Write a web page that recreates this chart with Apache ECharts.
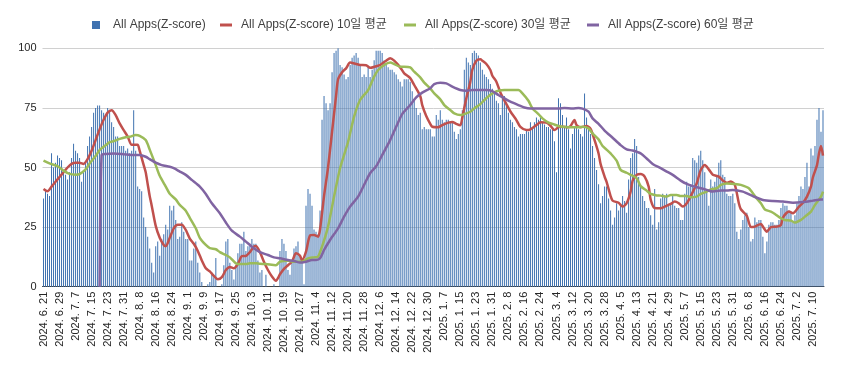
<!DOCTYPE html>
<html><head><meta charset="utf-8">
<script src="https://cdn.jsdelivr.net/npm/echarts@6/dist/echarts.min.js"></script>
<style>html,body{margin:0;padding:0;background:#fff}#c{width:843px;height:371px}</style>
</head><body><div id="c"></div>
<script>
// categories: one per day from 2024-06-21 (390 days)
const dayCount = 390;
const categories = [];
for (let i = 0; i < dayCount; i++) {
  const d = new Date(Date.UTC(2024, 5, 21 + i));
  categories.push(d.getUTCFullYear() + '. ' + (d.getUTCMonth() + 1) + '. ' + d.getUTCDate());
}
const seriesNames = ['All Apps(Z-score)', 'All Apps(Z-score) 10일 평균', 'All Apps(Z-score) 30일 평균', 'All Apps(Z-score) 60일 평균'];
const yTicks = [0, 25, 50, 75, 100];

// daily Z-score (bars)
const zScore = [
  37,40,39,38,56,50,52,55,54,53, 48,47,45,48,54,60,57,56,54,44,
  48,52,59,63,67,73,75,76,76,74, 73,71,75,74,69,67,63,63,59,59,
  59,57,58,56,57,74,57,42,41,40, 29,25,21,
  16,10,6,17,19,13,20,22,26,24, 34,32,34,28,20,21,27,23,20,20,
  11,11,16,19,10,6,2,0,0,1, 2,6,4,12,0,0,1,9,19,20,
  10,7,3,9,14,18,18,23,15,17, 18,20,18,18,11,6,7,
  0,5,0,0,0,1,0,0,
  15,20,18,15,7,5,11,16,17,19, 13,10,1,34,41,39,34,24,23,22,
  32,70,80,77,74,77,90,98,99,100, 93,92,89,87,88,93,96,97,98,96,
  93,88,89,88,92,88,91,95,99,99,
  99,98,95,93,92,91,91,90,89,87, 86,84,87,87,87,86,82,78,75,72,
  73,66,67,66,66,66,63,63,72,70, 74,70,69,70,70,69,69,65,62,64,
  66,74,91,96,94,93,98,99,98,97, 94,91,89,88,87,85,83,81,
  78,77,72,80,80,77,73,70,69,67, 66,63,64,64,64,66,65,69,67,69,
  71,70,71,69,68,67,67,66,67,61, 48,79,77,72,67,71,66,58,64,67,
  67,66,64,63,81,71,67,64,59,54, 49,43,35,38,42,42,
  37,32,26,29,35,32,34,38,36,31, 45,54,56,62,59,46,42,38,36,33,
  33,30,26,41,24,27,37,39,38,39, 34,35,38,34,33,33,28,28,39,44,
  42,43,54,53,52,55,57,53,48,41, 34,45,42,44,46,52,53,47,46,
  39,38,38,39,35,23,20,24,28,30, 31,25,19,20,29,27,28,28,21,14,
  19,26,27,27,26,26,28,33,35,34, 34,32,31,27,30,35,38,42,41,46,
  52,42,58,55,59,70,75,65,74
];

// moving averages: [day index, value]
const avg10 = [[0,41],[2,40],[4,42],[6,44],[8,46],[10,48],[12,50],[14,51.5],[16,52],[18,52],[20,51.5],[22,53.5],[24,57],[26,61.5],[28,66],[30,70],[32,73],[34,74],[36,72],[38,68.5],[40,65.7],[42,63],[44,59.5],[46,59.5],[47,59.5],[48,57],[50,51],[51,48],[52,43],[53,38],[54,34],[56,25.5],[58,20.5],[60,17.5],[61,17],[63,20.5],[65,24.5],[67,26],[69,26],[71,23.8],[73,20.2],[75,18],[77,15],[79,11],[81,7.7],[83,6.4],[85,4.5],[87,3.1],[89,4],[91,7],[93,8.3],[95,7.7],[97,9.5],[99,12.8],[101,12.9],[103,14.5],[105,16.8],[106,17.1],[108,14.5],[110,10.5],[112,7],[114,4.3],[116,2.5],[118,5.2],[120,7.5],[122,9],[124,10.5],[126,14],[128,13],[129,11],[131,14.7],[133,21.5],[135,21.7],[137,21],[138,24],[140,38],[142,50],[144,65],[146,80],[147,87],[149,90],[151,91.6],[153,94],[156,93.4],[158,93],[161,92.9],[163,91.8],[166,92.5],[168,93],[171,94.8],[173,95.8],[175,94.8],[178,92],[180,89.5],[183,87.5],[185,84.6],[188,80],[189,76.2],[191,71.6],[193,68.3],[194,67.1],[197,66.9],[199,67.8],[202,68.8],[204,69.1],[206,68.3],[208,67.7],[209,71],[211,79],[213,86],[214,91],[216,94.8],[218,95.4],[219,94.8],[221,93.4],[223,90.9],[224,88.5],[226,86],[228,81.5],[231,76.6],[233,73.5],[236,69.9],[238,67],[241,65.7],[243,66],[246,67.8],[248,69],[251,68.8],[253,67.5],[255,65.7],[257,66.9],[259,67.1],[262,66.9],[263,67.4],[265,69.9],[266,67.8],[268,66.9],[271,67.4],[273,66.2],[275,61.5],[277,55.9],[278,51.5],[280,46.2],[281,44],[283,38],[284,36.1],[287,35.2],[289,33.6],[291,35],[293,39.9],[294,44.5],[296,46.9],[298,47.3],[300,46.2],[302,42],[303,36.5],[305,33],[308,32.9],[310,33.6],[313,34.7],[315,35.7],[317,35],[319,33.6],[321,35],[323,38],[326,43.4],[328,49],[330,51],[332,49.2],[334,47],[337,46.2],[339,44.5],[341,43.6],[343,44.1],[345,42.7],[347,35],[348,32.5],[351,29.7],[353,25],[355,25.2],[358,26.3],[359,25.2],[361,23.1],[363,25],[366,25.2],[368,25.9],[369,29],[372,31.5],[374,30.8],[377,33.6],[379,35.2],[381,37.8],[383,42],[384,46],[386,51],[387,55.9],[388,59],[389,55]];

const avg30 = [[0,52.9],[3,51.7],[7,50.6],[10,48.7],[13,47.3],[16,47],[18,47.2],[21,49.2],[23,51.7],[26,54.8],[28,57.3],[31,59.3],[33,60.6],[36,61.3],[38,62],[41,62.7],[43,62.9],[46,63.6],[48,63.3],[51,61.5],[53,57.5],[56,51],[58,46.5],[61,42],[63,39],[66,36.6],[68,34.3],[71,31.9],[73,28.9],[76,24.5],[78,20.5],[81,17.5],[83,16.2],[86,15.7],[88,14.5],[91,13.3],[93,12.3],[96,9.8],[98,9.5],[101,9.5],[103,9.8],[106,9.8],[108,9.6],[111,9.5],[116,9],[118,10.5],[122,10.9],[125,10.5],[129,10.5],[132,11.9],[135,12.3],[137,12.6],[139,16.8],[142,25.2],[145,37.8],[148,49.7],[152,60.8],[155,71.3],[158,78.3],[162,82.5],[165,88.1],[167,90.9],[170,93],[173,94],[175,93.4],[178,92.3],[180,92.3],[183,92],[185,90.2],[188,87.8],[190,85.6],[193,83.2],[195,81.1],[198,78.6],[200,76.2],[203,74.1],[205,72.7],[208,72],[210,72.4],[213,73.4],[215,74.8],[218,76.6],[220,78.3],[223,80.5],[225,81.5],[227,82.2],[230,82.5],[234,82.5],[237,82.5],[239,81.1],[242,78],[244,74.8],[247,72.4],[249,70.6],[252,68.8],[254,68.3],[257,67.4],[259,67.1],[262,66.9],[264,66.9],[267,66.9],[269,67.1],[272,66.4],[274,64.3],[277,61.8],[279,59],[281,57.5],[283,55.9],[286,52.9],[288,49],[291,47.8],[293,46.9],[296,45.5],[298,42.2],[301,40.3],[303,38.9],[306,38.3],[308,38.2],[311,37.8],[313,38.5],[316,38.5],[318,38],[321,38],[323,37.5],[326,37.8],[328,38.9],[331,39.9],[333,40.8],[336,41.3],[338,42.7],[341,43.3],[345,43.1],[348,42.7],[352,41.3],[355,38],[358,35],[360,32.4],[363,31.5],[365,30.5],[368,28.7],[370,28],[373,27.7],[375,26.9],[378,28],[380,29.4],[383,31.5],[385,34.3],[388,37.8],[389,39.9]];

const avg60 = [[28,0],[29,55.2],[31,55.7],[35,55.9],[40,55.6],[45,55.2],[48,55.2],[51,54.5],[53,53.5],[56,52],[59,51],[63,50.3],[65,49.7],[68,48.3],[71,46.9],[74,44.8],[78,42],[81,38.9],[84,35],[88,30.8],[91,26.9],[94,23.5],[98,21],[101,18.9],[104,16.8],[108,14.5],[112,13.3],[115,12.3],[118,11.9],[122,11.2],[125,10.8],[128,10.1],[131,10.5],[134,11.2],[136,11.2],[138,11.9],[140,15.4],[143,19.6],[147,24.5],[150,29.4],[153,33.6],[157,37.8],[160,42.7],[163,47.6],[166,50.5],[169,55.2],[173,61.5],[176,67.1],[179,72.4],[183,76.2],[186,79.4],[189,81.4],[193,83.2],[195,85],[198,85.6],[201,85.3],[204,83.9],[208,82.5],[211,82.2],[214,82.5],[218,82.5],[221,82.5],[224,82],[227,80.4],[230,79],[233,77.6],[237,76.2],[240,75.2],[243,74.8],[247,74.8],[250,74.8],[254,74.8],[257,74.7],[260,75],[264,74.8],[267,75],[269,74.7],[272,73.4],[274,70.6],[277,68.3],[280,65.5],[284,62.5],[288,59.4],[291,57.6],[294,57.1],[298,55.9],[301,53.8],[304,51.5],[308,49.7],[311,48.3],[314,46.9],[318,44.5],[321,43.1],[324,42.2],[328,41.3],[331,40.6],[334,39.9],[338,40.3],[341,40.3],[344,40.6],[349,39.9],[354,38],[359,36.4],[364,35.9],[369,35.7],[374,35.2],[379,35.5],[384,36.1],[388,36.6],[389,36.6]];

const colors = ['#4a7ebb', '#c0504d', '#9bbb59', '#8064a2'];
const font = 'Liberation Sans, "Noto Sans CJK KR", sans-serif';

const chart = echarts.init(document.getElementById('c'), null, {renderer: 'canvas'});
const legendBase = {top: 19, padding: 0, itemGap: 0, textStyle: {fontFamily: font, fontSize: 12, color: '#404040', padding: [0, 0, 0, 4]}};
chart.setOption({
  animation: false,
  color: colors,
  grid: {left: 42.5, right: 19, top: 48.3, bottom: 84.3, containLabel: false},
  legend: [
    Object.assign({}, legendBase, {left: 92, itemWidth: 8, itemHeight: 8, data: [{name: seriesNames[0], icon: 'rect'}], textStyle: Object.assign({}, legendBase.textStyle, {padding: [0, 0, 0, 8]})}),
    Object.assign({}, legendBase, {left: 220, itemWidth: 12, itemHeight: 3, data: [{name: seriesNames[1], icon: 'rect'}]}),
    Object.assign({}, legendBase, {left: 404, itemWidth: 12, itemHeight: 3, data: [{name: seriesNames[2], icon: 'rect'}]}),
    Object.assign({}, legendBase, {left: 587, itemWidth: 12, itemHeight: 3, data: [{name: seriesNames[3], icon: 'rect'}]})
  ],
  xAxis: {
    type: 'category', data: categories, boundaryGap: true,
    axisLine: {lineStyle: {color: '#404040', width: 1}},
    axisTick: {show: false},
    axisLabel: {interval: 7, rotate: 90, fontSize: 11, fontFamily: font, color: '#262626', margin: 5}
  },
  yAxis: {
    type: 'value', min: yTicks[0], max: yTicks[yTicks.length - 1], interval: 25,
    axisLine: {show: false}, axisTick: {show: false},
    splitLine: {lineStyle: {color: '#d0d0d0', width: 1}},
    axisLabel: {fontSize: 11, fontFamily: font, color: '#262626', margin: 6}
  },
  series: [
    {name: seriesNames[0], type: 'bar', data: zScore, barWidth: 1, itemStyle: {color: '#3f72b0'}, z: 1},
    {name: seriesNames[1], type: 'line', data: avg10, showSymbol: false, symbol: 'none', smooth: 0.25, lineStyle: {width: 2.5, color: colors[1]}, itemStyle: {color: colors[1]}, z: 3},
    {name: seriesNames[2], type: 'line', data: avg30, showSymbol: false, symbol: 'none', smooth: 0.25, lineStyle: {width: 2.5, color: colors[2]}, itemStyle: {color: colors[2]}, z: 4},
    {name: seriesNames[3], type: 'line', data: avg60, showSymbol: false, symbol: 'none', smooth: 0.25, lineStyle: {width: 2.5, color: colors[3]}, itemStyle: {color: colors[3]}, z: 5}
  ]
});
</script></body></html>
